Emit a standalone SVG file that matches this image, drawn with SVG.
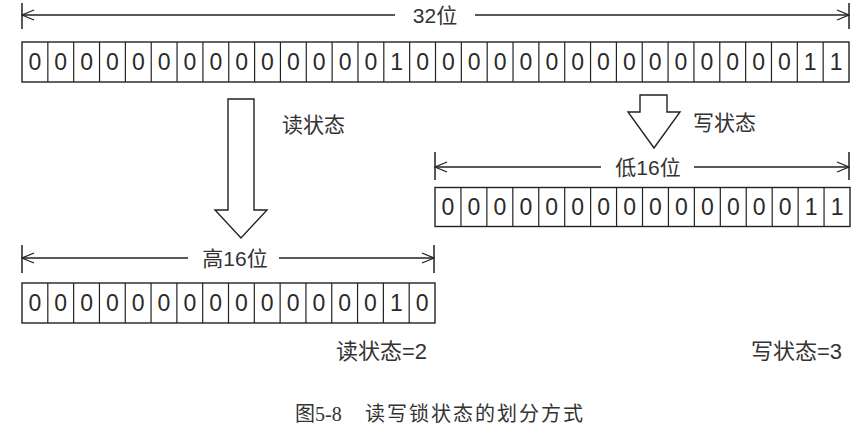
<svg xmlns="http://www.w3.org/2000/svg" width="868" height="441" viewBox="0 0 868 441">
<defs>
<marker id="ah" viewBox="-14 -6 15 12" refX="0" refY="0" markerWidth="15" markerHeight="12" markerUnits="userSpaceOnUse" orient="auto-start-reverse">
<path d="M-12,-5 L0,0 L-12,5" fill="none" stroke="#222" stroke-width="1.3"/>
</marker>
<style>
.box{fill:#fff;stroke:#222;stroke-width:1.4}
.div{fill:none;stroke:#222;stroke-width:1.2}
.d{font-family:"Liberation Sans",Arial,sans-serif;font-size:23px;fill:#2a2a2a;text-anchor:middle}
.lbl{font-family:"Liberation Sans","Noto Sans CJK SC",sans-serif;font-size:21px;fill:#333}
.lbl2{font-family:"Liberation Sans","Noto Sans CJK SC",sans-serif;font-size:22px;fill:#333}
.dim{fill:none;stroke:#222;stroke-width:1.3}
.tick{fill:none;stroke:#222;stroke-width:1.5}
.arr{fill:#fff;stroke:#222;stroke-width:1.4;stroke-linejoin:miter}
.cap{font-family:"Liberation Serif","Noto Sans CJK SC",serif;font-size:20px;fill:#333}
</style>
</defs>
<rect width="868" height="441" fill="#fff"/>

<g id="connectors">
<g id="dim32">
<path class="tick" d="M22,3V29M849,3V29"/>
<path class="dim" d="M395,15H22" marker-end="url(#ah)"/>
<path class="dim" d="M475,15H849" marker-end="url(#ah)"/>
<text class="lbl" x="435" y="23" text-anchor="middle">32位</text>
</g>
<g id="dimHigh">
<path class="tick" d="M22,245V273M434,245V273"/>
<path class="dim" d="M188,258H22" marker-end="url(#ah)"/>
<path class="dim" d="M279,258H434" marker-end="url(#ah)"/>
<text class="lbl" x="235" y="266" text-anchor="middle">高16位</text>
</g>
<g id="dimLow">
<path class="tick" d="M435,152V180M849,152V180"/>
<path class="dim" d="M601,167H435" marker-end="url(#ah)"/>
<path class="dim" d="M694,167H849" marker-end="url(#ah)"/>
<text class="lbl" x="648" y="175" text-anchor="middle">低16位</text>
</g>
<g id="readArrow">
<polygon class="arr" points="228,99 254,99 254,210 267,210 241,238 215,210 228,210"/>
<text class="lbl" x="282" y="132">读状态</text>
</g>
<g id="writeArrow">
<polygon class="arr" points="640,95 667,95 667,112 680,112 654,148 628,112 640,112"/>
<text class="lbl" x="693" y="130">写状态</text>
</g>
</g>

<g id="row32">
<rect class="box" x="22" y="42" width="827" height="40"/>
<path class="div" d="M47.84,42V82M73.69,42V82M99.53,42V82M125.38,42V82M151.22,42V82M177.06,42V82M202.91,42V82M228.75,42V82M254.59,42V82M280.44,42V82M306.28,42V82M332.13,42V82M357.97,42V82M383.81,42V82M409.66,42V82M435.5,42V82M461.34,42V82M487.19,42V82M513.03,42V82M538.88,42V82M564.72,42V82M590.56,42V82M616.41,42V82M642.25,42V82M668.09,42V82M693.94,42V82M719.78,42V82M745.63,42V82M771.47,42V82M797.31,42V82M823.16,42V82"/>
<text class="d" x="34.92" y="70">0</text>
<text class="d" x="60.77" y="70">0</text>
<text class="d" x="86.61" y="70">0</text>
<text class="d" x="112.45" y="70">0</text>
<text class="d" x="138.3" y="70">0</text>
<text class="d" x="164.14" y="70">0</text>
<text class="d" x="189.98" y="70">0</text>
<text class="d" x="215.83" y="70">0</text>
<text class="d" x="241.67" y="70">0</text>
<text class="d" x="267.52" y="70">0</text>
<text class="d" x="293.36" y="70">0</text>
<text class="d" x="319.2" y="70">0</text>
<text class="d" x="345.05" y="70">0</text>
<text class="d" x="370.89" y="70">0</text>
<text class="d" x="396.73" y="70">1</text>
<text class="d" x="422.58" y="70">0</text>
<text class="d" x="448.42" y="70">0</text>
<text class="d" x="474.27" y="70">0</text>
<text class="d" x="500.11" y="70">0</text>
<text class="d" x="525.95" y="70">0</text>
<text class="d" x="551.8" y="70">0</text>
<text class="d" x="577.64" y="70">0</text>
<text class="d" x="603.48" y="70">0</text>
<text class="d" x="629.33" y="70">0</text>
<text class="d" x="655.17" y="70">0</text>
<text class="d" x="681.02" y="70">0</text>
<text class="d" x="706.86" y="70">0</text>
<text class="d" x="732.7" y="70">0</text>
<text class="d" x="758.55" y="70">0</text>
<text class="d" x="784.39" y="70">0</text>
<text class="d" x="810.23" y="70">1</text>
<text class="d" x="836.08" y="70">1</text>
</g>

<g id="rowHigh">
<rect class="box" x="22" y="283" width="413" height="40"/>
<path class="div" d="M47.81,283V323M73.63,283V323M99.44,283V323M125.25,283V323M151.06,283V323M176.88,283V323M202.69,283V323M228.5,283V323M254.31,283V323M280.13,283V323M305.94,283V323M331.75,283V323M357.56,283V323M383.38,283V323M409.19,283V323"/>
<text class="d" x="34.91" y="311">0</text>
<text class="d" x="60.72" y="311">0</text>
<text class="d" x="86.53" y="311">0</text>
<text class="d" x="112.34" y="311">0</text>
<text class="d" x="138.16" y="311">0</text>
<text class="d" x="163.97" y="311">0</text>
<text class="d" x="189.78" y="311">0</text>
<text class="d" x="215.59" y="311">0</text>
<text class="d" x="241.41" y="311">0</text>
<text class="d" x="267.22" y="311">0</text>
<text class="d" x="293.03" y="311">0</text>
<text class="d" x="318.84" y="311">0</text>
<text class="d" x="344.66" y="311">0</text>
<text class="d" x="370.47" y="311">0</text>
<text class="d" x="396.28" y="311">1</text>
<text class="d" x="422.09" y="311">0</text>
<text class="lbl2" x="427" y="359" text-anchor="end">读状态=2</text>
</g>

<g id="rowLow">
<rect class="box" x="435" y="187.5" width="415" height="39"/>
<path class="div" d="M460.94,187.5V226.5M486.88,187.5V226.5M512.81,187.5V226.5M538.75,187.5V226.5M564.69,187.5V226.5M590.63,187.5V226.5M616.56,187.5V226.5M642.5,187.5V226.5M668.44,187.5V226.5M694.38,187.5V226.5M720.31,187.5V226.5M746.25,187.5V226.5M772.19,187.5V226.5M798.13,187.5V226.5M824.06,187.5V226.5"/>
<text class="d" x="447.97" y="215">0</text>
<text class="d" x="473.91" y="215">0</text>
<text class="d" x="499.84" y="215">0</text>
<text class="d" x="525.78" y="215">0</text>
<text class="d" x="551.72" y="215">0</text>
<text class="d" x="577.66" y="215">0</text>
<text class="d" x="603.59" y="215">0</text>
<text class="d" x="629.53" y="215">0</text>
<text class="d" x="655.47" y="215">0</text>
<text class="d" x="681.41" y="215">0</text>
<text class="d" x="707.34" y="215">0</text>
<text class="d" x="733.28" y="215">0</text>
<text class="d" x="759.22" y="215">0</text>
<text class="d" x="785.16" y="215">0</text>
<text class="d" x="811.09" y="215">1</text>
<text class="d" x="837.03" y="215">1</text>
<text class="lbl2" x="842" y="359" text-anchor="end">写状态=3</text>
</g>

<g id="caption">
<text class="cap" y="421"><tspan x="295">图5-8</tspan><tspan x="365" letter-spacing="2">读写锁状态的划分方式</tspan></text>
</g>
</svg>
